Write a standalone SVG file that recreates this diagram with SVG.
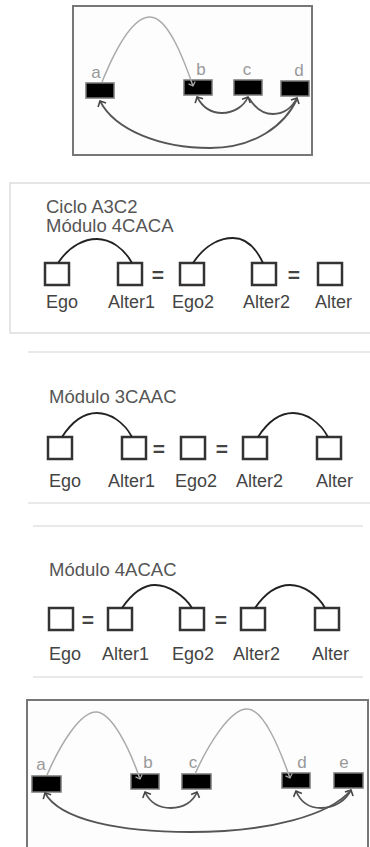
<svg xmlns="http://www.w3.org/2000/svg" width="370" height="847" viewBox="0 0 370 847">
  <style>
    .frame { fill: #fdfdfd; stroke: #777; stroke-width: 2; }
    .panel { fill: #fff; stroke: #d4d4d4; stroke-width: 1.2; }
    .sep { stroke: #d4d4d4; stroke-width: 1.2; }
    .blk { fill: #000; stroke: #777; stroke-width: 1.5; }
    .lbl { font-family: "Liberation Sans", Arial, sans-serif; font-size: 17px; fill: #999; text-anchor: middle; }
    .arcg { fill: none; stroke: #aaa; stroke-width: 1.5; }
    .arcd { fill: none; stroke: #555; stroke-width: 1.8; }
    .sq { fill: #fff; stroke: #333; stroke-width: 2.5; }
    .tie { fill: none; stroke: #222; stroke-width: 1.8; }
    .title { font-family: "Liberation Sans", Arial, sans-serif; font-size: 18.5px; fill: #555; }
    .name { font-family: "Liberation Sans", Arial, sans-serif; font-size: 18px; fill: #444; }
    .eq { font-family: "Liberation Sans", Arial, sans-serif; font-size: 21px; font-weight: bold; fill: #444; text-anchor: middle; }
  </style>
  <defs>
    <marker id="chev" viewBox="-6 -6 8 12" markerWidth="8" markerHeight="12" markerUnits="userSpaceOnUse" orient="auto-start-reverse" refX="0" refY="0">
      <path d="M-4.5,-4.5 L0,0 L-4.5,4.5" fill="none" stroke="#444" stroke-width="1.6"/>
    </marker>
    <marker id="chevg" viewBox="-6 -6 8 12" markerWidth="8" markerHeight="12" markerUnits="userSpaceOnUse" orient="auto" refX="0" refY="0">
      <path d="M-3.5,-3.5 L0,0 L-3.5,3.5" fill="none" stroke="#aaa" stroke-width="1.3"/>
    </marker>
  </defs>

  <!-- Network a–d -->
  <g id="net4">
    <rect class="frame" x="73" y="6" width="239" height="149"/>
    <g id="net4-a"><rect class="blk" x="86" y="83" width="28" height="15"/><text class="lbl" x="96" y="78">a</text></g>
    <g id="net4-b"><rect class="blk" x="184" y="80" width="28" height="15"/><text class="lbl" x="201" y="75">b</text></g>
    <g id="net4-c"><rect class="blk" x="234" y="80" width="28" height="15"/><text class="lbl" x="247" y="75">c</text></g>
    <g id="net4-d"><rect class="blk" x="281" y="81" width="28" height="15"/><text class="lbl" x="299" y="76">d</text></g>
    <g id="net4-links">
      <path class="arcg" d="M102,82 C115,50 132,17 150,17 C168,17 184,60 193,86" marker-end="url(#chevg)"/>
      <path class="arcd" d="M197,97 C203,108 212,113 222,113 C234,113 244,106 248,97" marker-start="url(#chev)" marker-end="url(#chev)"/>
      <path class="arcd" d="M249,98 C255,108 263,114 273,114 C285,114 293,106 297,98" marker-end="url(#chev)"/>
      <path class="arcd" d="M100,101 C115,130 160,148 210,148 C255,148 285,125 297,99" marker-start="url(#chev)"/>
    </g>
  </g>

  <!-- Module 4CACA -->
  <g id="mod-4caca">
    <rect class="panel" x="10" y="183" width="364" height="150"/>
    <text class="title" x="46" y="213">Ciclo A3C2</text>
    <text class="title" x="46" y="232">Módulo 4CACA</text>
    <g id="m1-ego"><rect class="sq" x="45" y="263" width="24" height="22"/><text class="name" x="46" y="308">Ego</text></g>
    <g id="m1-alter1"><rect class="sq" x="118" y="263" width="24" height="22"/><text class="name" x="108" y="308">Alter1</text></g>
    <text class="eq" x="158" y="282">=</text>
    <g id="m1-ego2"><rect class="sq" x="180" y="263" width="24" height="22"/><text class="name" x="172" y="308">Ego2</text></g>
    <g id="m1-alter2"><rect class="sq" x="252" y="263" width="24" height="22"/><text class="name" x="243" y="308">Alter2</text></g>
    <text class="eq" x="294" y="282">=</text>
    <g id="m1-alter"><rect class="sq" x="318" y="263" width="24" height="22"/><text class="name" x="315" y="308">Alter</text></g>
    <g id="m1-ties">
      <path class="tie" d="M58,263 C70,245 85,239 97,239 C110,239 124,248 132,263"/>
      <path class="tie" d="M193,263 C205,245 220,238 233,238 C246,238 256,248 263,263"/>
    </g>
  </g>

  <!-- Module 3CAAC -->
  <g id="mod-3caac">
    <line class="sep" x1="28" y1="352" x2="370" y2="352"/>
    <line class="sep" x1="28" y1="503" x2="370" y2="503"/>
    <text class="title" x="49" y="403">Módulo 3CAAC</text>
    <g id="m2-ego"><rect class="sq" x="48" y="437" width="24" height="22"/><text class="name" x="49" y="487">Ego</text></g>
    <g id="m2-alter1"><rect class="sq" x="122" y="437" width="24" height="22"/><text class="name" x="108" y="487">Alter1</text></g>
    <text class="eq" x="159" y="456">=</text>
    <g id="m2-ego2"><rect class="sq" x="181" y="437" width="24" height="22"/><text class="name" x="175" y="487">Ego2</text></g>
    <text class="eq" x="222" y="456">=</text>
    <g id="m2-alter2"><rect class="sq" x="243" y="437" width="24" height="22"/><text class="name" x="236" y="487">Alter2</text></g>
    <g id="m2-alter"><rect class="sq" x="317" y="437" width="24" height="22"/><text class="name" x="316" y="487">Alter</text></g>
    <g id="m2-ties">
      <path class="tie" d="M62,437 C73,420 86,413 97,413 C110,413 124,422 132,437"/>
      <path class="tie" d="M258,437 C269,420 282,413 293,413 C306,413 320,422 328,437"/>
    </g>
  </g>

  <!-- Module 4ACAC -->
  <g id="mod-4acac">
    <line class="sep" x1="33" y1="526" x2="363" y2="526"/>
    <line class="sep" x1="33" y1="677" x2="363" y2="677"/>
    <text class="title" x="49" y="576">Módulo 4ACAC</text>
    <g id="m3-ego"><rect class="sq" x="49" y="608" width="24" height="22"/><text class="name" x="49" y="660">Ego</text></g>
    <text class="eq" x="88" y="627">=</text>
    <g id="m3-alter1"><rect class="sq" x="108" y="608" width="24" height="22"/><text class="name" x="102" y="660">Alter1</text></g>
    <g id="m3-ego2"><rect class="sq" x="180" y="608" width="24" height="22"/><text class="name" x="172" y="660">Ego2</text></g>
    <text class="eq" x="221" y="627">=</text>
    <g id="m3-alter2"><rect class="sq" x="241" y="608" width="24" height="22"/><text class="name" x="233" y="660">Alter2</text></g>
    <g id="m3-alter"><rect class="sq" x="315" y="608" width="24" height="22"/><text class="name" x="312" y="660">Alter</text></g>
    <g id="m3-ties">
      <path class="tie" d="M122,608 C133,592 144,585 155,585 C168,585 184,595 192,608"/>
      <path class="tie" d="M255,608 C266,592 278,585 290,585 C303,585 318,595 325,608"/>
    </g>
  </g>

  <!-- Network a–e -->
  <g id="net5">
    <rect class="frame" x="27" y="700" width="341" height="160"/>
    <g id="net5-a"><rect class="blk" x="32" y="776" width="29" height="16"/><text class="lbl" x="41" y="770">a</text></g>
    <g id="net5-b"><rect class="blk" x="131" y="774" width="28" height="15"/><text class="lbl" x="148" y="768">b</text></g>
    <g id="net5-c"><rect class="blk" x="182" y="774" width="29" height="15"/><text class="lbl" x="193" y="768">c</text></g>
    <g id="net5-d"><rect class="blk" x="282" y="773" width="28" height="15"/><text class="lbl" x="302" y="768">d</text></g>
    <g id="net5-e"><rect class="blk" x="334" y="773" width="29" height="15"/><text class="lbl" x="344" y="768">e</text></g>
    <g id="net5-links">
      <path class="arcg" d="M47,775 C60,745 80,712 96,712 C112,712 130,750 140,779" marker-end="url(#chevg)"/>
      <path class="arcg" d="M195,774 C208,745 230,709 247,709 C264,709 280,750 290,778" marker-end="url(#chevg)"/>
      <path class="arcd" d="M145,792 C150,803 160,808 171,808 C183,808 193,802 197,792" marker-start="url(#chev)" marker-end="url(#chev)"/>
      <path class="arcd" d="M296,791 C301,803 310,808 321,808 C335,808 346,800 351,790" marker-start="url(#chev)" marker-end="url(#chev)"/>
      <path class="arcd" d="M45,793 C60,820 120,832 190,832 C270,832 330,815 351,790" marker-start="url(#chev)"/>
    </g>
  </g>
</svg>
